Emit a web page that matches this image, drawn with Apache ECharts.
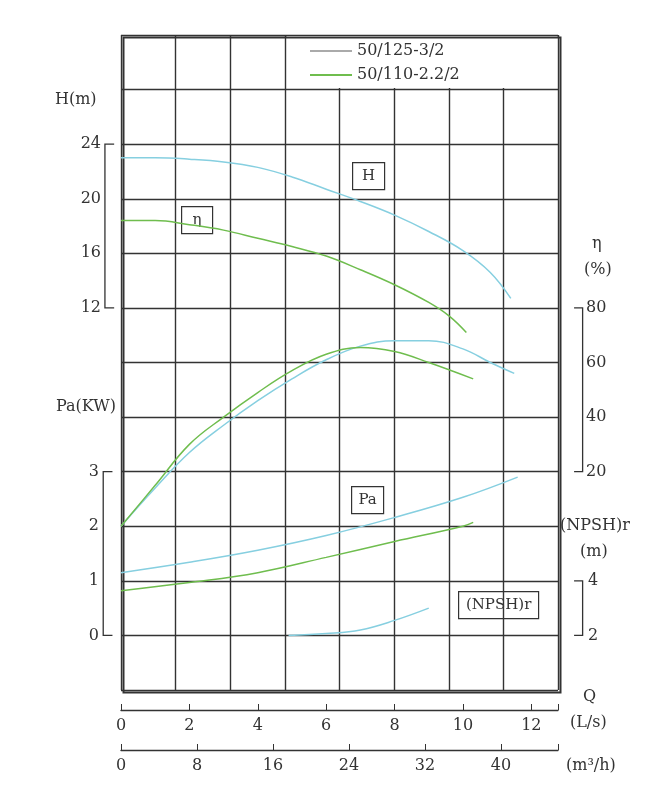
<!DOCTYPE html>
<html><head><meta charset="utf-8">
<script src="https://cdn.jsdelivr.net/npm/echarts@6/dist/echarts.min.js"></script>
<style>html,body{margin:0;padding:0;background:#fff}#c{width:671px;height:800px}</style>
</head><body><div id="c"></div>
<script>
const seriesNames = ['50/125-3/2', '50/110-2.2/2'];
const qTicksLs = [0,2,4,6,8,10,12];
const qTicksM3 = [0,8,16,24,32,40];
// Q (L/s), value
const hA = [[0,23.0],[1,23.0],[2,22.9],[3,22.7],[4,22.3],[5,21.6],[6,20.7],[7,19.8],[8,18.8],[9,17.6],[10,16.2],[10.8,14.6],[11.4,12.7]];
const hB = [[0,18.4],[1,18.4],[2,18.1],[3,17.7],[4,17.1],[5,16.5],[6,15.8],[7,14.8],[8,13.7],[9,12.4],[9.6,11.4],[10.1,10.2]];
const etaA = [[0,0],[1,14],[2,27],[3,37],[4,46],[5,54],[6,61],[7,66],[8,68],[9,68],[10,65],[10.8,60],[11.5,56]];
const etaB = [[0,0],[1,15],[2,30],[3,40],[4,49],[5,57],[6,63],[7,65.5],[8,64],[9,60],[10.3,54]];
const paA = [[0,1.15],[2,1.34],[4,1.56],[6,1.83],[8,2.16],[10,2.53],[11.6,2.9]];
const paB = [[0,0.82],[2,0.97],[4,1.15],[6,1.43],[8,1.72],[10,2.0],[10.3,2.07]];
const npshA = [[4.9,2.0],[6,2.07],[7,2.2],[8,2.55],[9,3.0]];

const C_A = '#86cfe0', C_B = '#6fbd4e', INK = '#333';
const FONT = 'DejaVu Serif';
const chart = echarts.init(document.getElementById('c'));
const inRange = (lo, hi) => v => (v >= lo - 1e-6 && v <= hi + 1e-6) ? String(v) : '';
function valAxis(opts){ return Object.assign({type:'value', axisLine:{show:false}, axisTick:{show:false}, splitLine:{show:false}}, opts); }
function curve(name, yi, data, color){
  return {type:'line', name:name, xAxisIndex:1, yAxisIndex:yi, smooth:0.4, symbol:'none', data:data,
    lineStyle:{color:color, width:1.5}, itemStyle:{color:color}, z:10};
}
function box(x, y, w, h, t){
  return {type:'group', left:x, top:y, z:20, children:[
    {type:'rect', shape:{x:0,y:0,width:w,height:h}, style:{fill:'#fff', stroke:INK, lineWidth:1.2}},
    {type:'text', style:{x:w/2, y:h/2, text:t, align:'center', verticalAlign:'middle', fill:INK, font:'15px '+FONT}}
  ]};
}
function txt(x, y, t){ return {type:'text', left:x, top:y, z:20, style:{text:t, fill:INK, font:'16px '+FONT}}; }
const xAx = (max, interval, offset, hi) => ({type:'value', min:0, max:max, interval:interval, position:'bottom', offset:offset,
     axisLine:{show:true, onZero:false, lineStyle:{color:INK, width:1.4}},
     axisTick:{show:true, inside:true, length:6, lineStyle:{color:INK}},
     splitLine:{show:false}, axisLabel:{margin:8, color:INK, fontFamily:FONT, fontSize:16, formatter:inRange(0,hi)}});
chart.setOption({
  animation:false,
  grid:{left:121, right:113, top:35, bottom:110, show:false},
  legend:{show:true, left:305, top:38, orient:'vertical', itemGap:8, itemWidth:42, itemHeight:2,
    icon:'rect', data:[{name:seriesNames[0], itemStyle:{color:'#aaa'}},{name:seriesNames[1], itemStyle:{color:C_B}}],
    textStyle:{fontFamily:FONT, fontSize:16, color:INK}},
  xAxis:[
    {type:'value', min:0, max:8, interval:1, show:true, axisLabel:{show:false}, axisTick:{show:false},
     axisLine:{show:false}, splitLine:{show:true, lineStyle:{color:INK, width:1.4}}},
    xAx(12.78, 2, 20, 12),
    xAx(46.0, 8, 60, 40)
  ],
  yAxis:[
    {type:'value', min:0, max:12, interval:1, axisLabel:{show:false}, axisTick:{show:false}, axisLine:{show:false},
     splitLine:{show:true, lineStyle:{color:INK, width:1.4}}},
    valAxis({min:-16, max:32, interval:4, position:'left', axisLabel:{margin:20, color:INK, fontFamily:FONT, fontSize:16, formatter:inRange(12,24)}}),
    valAxis({min:-60, max:180, interval:20, position:'right', axisLabel:{margin:28, color:INK, fontFamily:FONT, fontSize:16, formatter:inRange(20,80)}}),
    valAxis({min:-1, max:11, interval:1, position:'left', axisLabel:{margin:22, color:INK, fontFamily:FONT, fontSize:16, formatter:inRange(0,3)}}),
    valAxis({min:0, max:24, interval:2, position:'right', axisLabel:{margin:30, color:INK, fontFamily:FONT, fontSize:16, formatter:inRange(2,4)}})
  ],
  graphic:[
    {type:'rect', left:287, top:36, z:1, shape:{width:270, height:52}, style:{fill:'#fff'}},
    {type:'rect', left:121, top:35, z:2, shape:{width:437, height:655}, style:{fill:'none', stroke:INK, lineWidth:2}},
    box(352, 162, 32, 27, 'H'),
    box(181, 206, 31, 27, 'η'),
    box(351, 486, 32, 27, 'Pa'),
    box(458, 591, 80, 27, '(NPSH)r'),
    txt(55, 92, 'H(m)'), txt(56, 399, 'Pa(KW)'),
    txt(592, 236, 'η'), txt(584, 262, '(%)'),
    txt(560, 518, '(NPSH)r'), txt(580, 544, '(m)'),
    txt(583, 689, 'Q'), txt(570, 715, '(L/s)'), txt(566, 758, '(m³/h)')
  ],
  series:[
    curve(seriesNames[0], 1, hA, C_A), curve(seriesNames[1], 1, hB, C_B),
    curve(seriesNames[0], 2, etaA, C_A), curve(seriesNames[1], 2, etaB, C_B),
    curve(seriesNames[0], 3, paA, C_A), curve(seriesNames[1], 3, paB, C_B),
    curve(seriesNames[0], 4, npshA, C_A)
  ]
});
// brackets for the scale ranges, placed via the library's axis scales
function bracketPts(yi, xo, xi, lo, hi){
  const f = (x, y) => chart.convertToPixel({xAxisIndex:1, yAxisIndex:yi}, [x, y]);
  return [f(xi,hi), f(xo,hi), f(xo,lo), f(xi,lo)];
}
const br = [bracketPts(1,-0.47,-0.2,12,24), bracketPts(3,-0.52,-0.25,0,3),
            bracketPts(2,13.5,13.25,20,80), bracketPts(4,13.5,13.25,2,4)];
const g = chart.getOption().graphic[0].elements.slice();
br.forEach(p => g.push({type:'polyline', z:20, shape:{points:p}, style:{stroke:INK, lineWidth:1.3, fill:null}}));
chart.setOption({graphic:g});
</script></body></html>
